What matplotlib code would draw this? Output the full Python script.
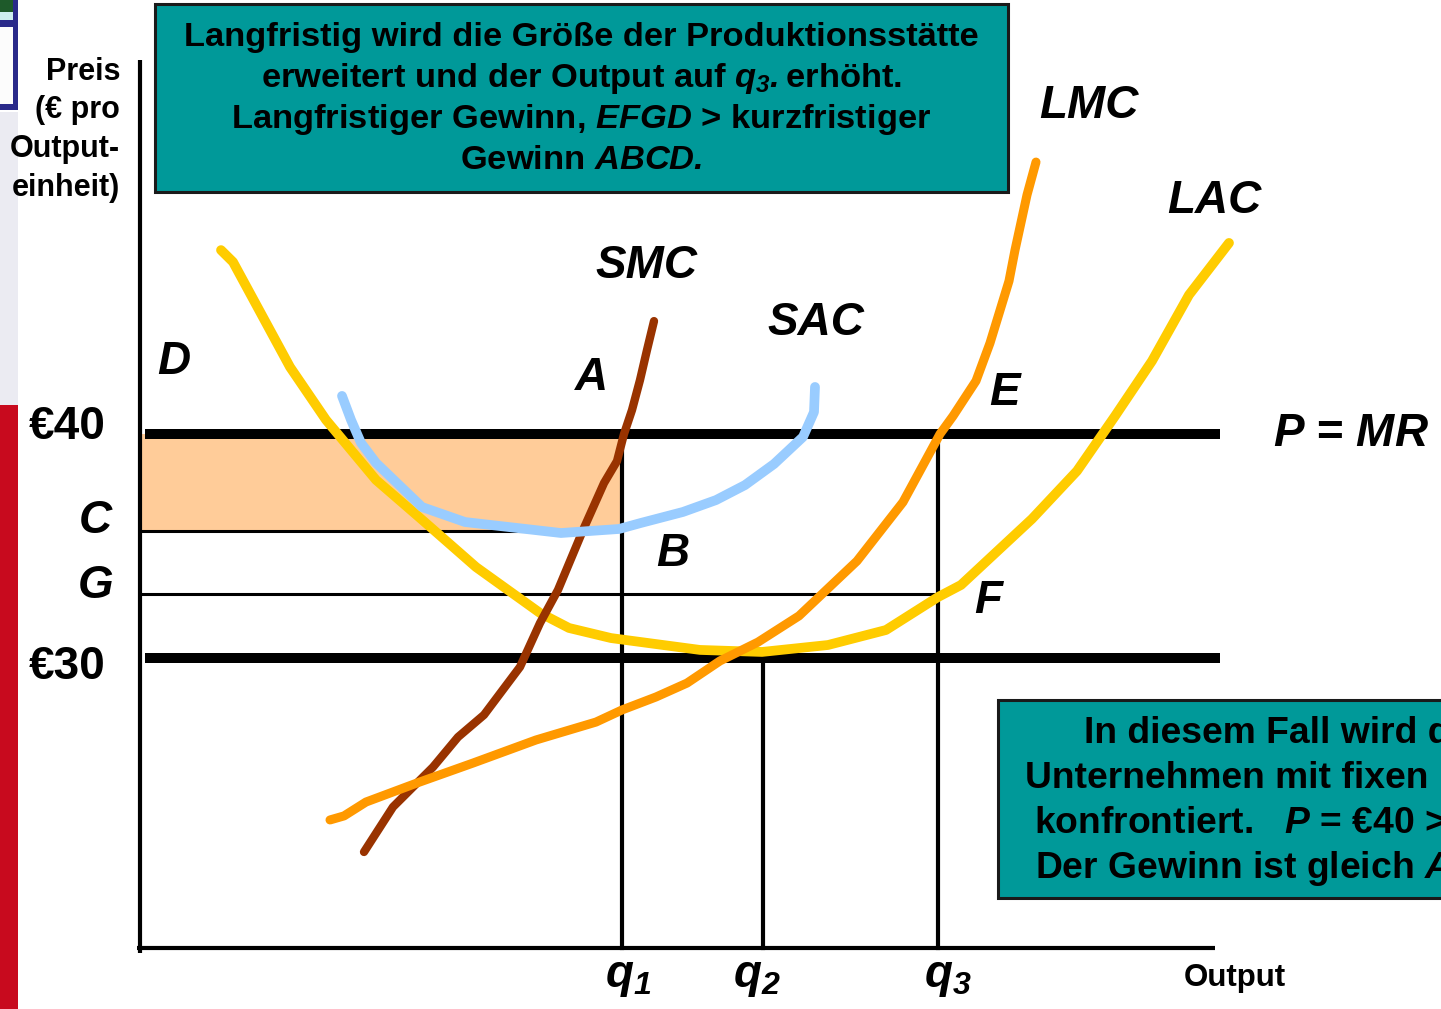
import matplotlib.pyplot as plt
from matplotlib.patches import Rectangle

plt.rcParams['font.family'] = ['Liberation Sans', 'DejaVu Sans']
plt.rcParams['mathtext.fontset'] = 'custom'
plt.rcParams['mathtext.rm'] = 'Liberation Sans:bold'
plt.rcParams['mathtext.it'] = 'Liberation Sans:italic:bold'
plt.rcParams['mathtext.bf'] = 'Liberation Sans:bold'
plt.rcParams['mathtext.sf'] = 'Liberation Sans:italic:bold'  # italic digits for subscripts

# --- data (output units, price in EUR) ---
lac_q = [8.1, 9.3, 15.0, 18.6, 23.6, 27.9, 33.6, 40.0, 42.9, 47.1, 56.0, 62.2,
         68.8, 74.6, 79.8, 82.1, 89.2, 93.7, 97.5, 101.2, 104.9, 108.9]
lac_p = [48.21, 47.68, 42.99, 40.63, 37.95, 36.29, 34.06, 32.01, 31.34, 30.89, 30.36, 30.27,
         30.58, 31.25, 32.72, 33.26, 36.21, 38.35, 40.80, 43.26, 46.21, 48.53]

sac_q = [20.2, 21.1, 22.1, 23.6, 28.2, 32.5, 42.1, 47.9, 50.1, 54.3, 57.6, 60.5,
         63.4, 66.3, 67.4, 67.5]
sac_p = [41.70, 40.63, 39.60, 38.71, 36.74, 36.07, 35.58, 35.76, 36.03, 36.52, 37.05, 37.72,
         38.66, 39.87, 40.98, 42.10]

smc_q = [22.4, 25.3, 29.3, 31.8, 34.4, 38.0, 40.0, 41.8, 44.3, 46.4, 47.7, 48.4,
         49.2, 50.0, 50.7, 51.4]
smc_p = [21.34, 23.35, 25.13, 26.47, 27.46, 29.60, 31.56, 33.04, 35.71, 37.81, 38.79, 40.0,
         41.07, 42.41, 43.75, 45.04]

lmc_q = [19.0, 20.4, 22.6, 27.7, 33.3, 39.6, 45.6, 48.2, 51.6, 54.7, 58.0, 61.8,
         65.9, 71.7, 76.3, 80.0, 81.3, 83.6, 85.0, 86.9, 87.5, 88.7, 89.6]
lmc_p = [22.77, 22.95, 23.57, 24.42, 25.31, 26.34, 27.14, 27.68, 28.26, 28.88, 29.87, 30.71,
         31.88, 34.33, 36.96, 40.0, 40.80, 42.37, 44.06, 46.83, 48.21, 50.67, 52.14]

price_high = 40.0
price_low = 30.0
price_c = 35.67
price_g = 32.86
q1, q2, q3 = 48.2, 62.3, 79.8
axis_p = 17.05
line_end = 108.0

top_lines = ['Langfristig wird die Größe der Produktionsstätte',
             r'erweitert und der Output auf $q_{\mathsf{3}}\mathsf{.}$erhöht.',
             r'Langfristiger Gewinn, $EFGD$ > kurzfristiger',
             r'Gewinn $ABCD\mathsf{.}$']
bottom_lines = ['In diesem Fall wird das',
                'Unternehmen mit fixen Inputs',
                r'konfrontiert.   $P$ = €40 > ATC.',
                r'Der Gewinn ist gleich $ABCD\mathsf{.}$']

W, H = 1441, 1009
fig = plt.figure(figsize=(W / 100, H / 100), dpi=100)
ax = fig.add_axes([0, 0, 1, 1])
ax.set_xlim(-14.0, 130.1)
ax.set_ylim(14.33, 59.375)
ax.axis('off')

# slide edge decoration on the left
def px_rect(x0, y0, x1, y1, color):
    fig.add_artist(Rectangle((x0 / W, 1 - y1 / H), (x1 - x0) / W, (y1 - y0) / H,
                             transform=fig.transFigure, color=color, lw=0, zorder=0))

px_rect(0, 405, 18, 1009, '#C80A1E')
px_rect(0, 112, 18, 405, '#EBEBF2')
px_rect(0, 0, 18, 110, '#2A2A8A')
px_rect(0, 0, 13, 12, '#1E5A2A')
px_rect(0, 12, 13, 20, '#CDEFEF')
px_rect(0, 27, 13, 104, '#FCFCFC')

# profit area ABCD
ax.fill_between([0, q1], price_c, price_high, color='#FFCC99', lw=0, zorder=1)

# price lines
ax.plot([0.5, line_end], [price_high, price_high], color='black', lw=7.2, solid_capstyle='butt', zorder=2)
ax.plot([0.5, line_end], [price_low, price_low], color='black', lw=7.2, solid_capstyle='butt', zorder=2)
ax.plot([0, q1], [price_c, price_c], color='black', lw=2.2, zorder=2)
ax.plot([0, q3], [price_g, price_g], color='black', lw=2.2, zorder=2)
ax.plot([q1, q1], [price_high, axis_p], color='black', lw=3, zorder=2)
ax.plot([q2, q2], [price_low, axis_p], color='black', lw=3, zorder=2)
ax.plot([q3, q3], [price_high, axis_p], color='black', lw=3, zorder=2)

# axes
ax.plot([0, 0], [56.7, axis_p - 0.2], color='black', lw=3, solid_capstyle='butt', zorder=3)
ax.plot([-0.3, 107.5], [axis_p, axis_p], color='black', lw=3, solid_capstyle='butt', zorder=3)

# cost curves
ax.plot(lac_q, lac_p, color='#FFCC00', lw=7, solid_capstyle='round', solid_joinstyle='round', zorder=4)
ax.plot(smc_q, smc_p, color='#993300', lw=6, solid_capstyle='round', solid_joinstyle='round', zorder=5)
ax.plot(sac_q, sac_p, color='#99CCFF', lw=7, solid_capstyle='round', solid_joinstyle='round', zorder=6)
ax.plot(lmc_q, lmc_p, color='#FF9900', lw=6.5, solid_capstyle='round', solid_joinstyle='round', zorder=7)

lab = dict(fontsize=33, fontweight='bold', ha='center', va='center', zorder=8)
labi = dict(lab, fontstyle='italic')
ax.text(-7.3, 40.32, '€40', **lab)
ax.text(-7.3, 29.6, '€30', **lab)
ax.text(-4.5, 36.12, 'C', **labi)
ax.text(-4.4, 33.22, 'G', **labi)
ax.text(3.4, 43.22, 'D', **labi)
ax.text(45.2, 42.5, 'A', **labi)
ax.text(53.3, 34.65, 'B', **labi)
ax.text(86.5, 41.83, 'E', **labi)
ax.text(84.8, 32.55, 'F', **labi)
ax.text(50.6, 47.5, 'SMC', **labi)
ax.text(67.6, 44.95, 'SAC', **labi)
ax.text(94.9, 54.65, 'LMC', **labi)
ax.text(107.4, 50.42, 'LAC', **labi)
ax.text(121.1, 39.98, r'$P$ = $MR$', **lab)
ax.text(q1 + 0.6, 15.75, r'$q_{\mathsf{1}}$', **lab)
ax.text(q2 - 0.6, 15.75, r'$q_{\mathsf{2}}$', **lab)
ax.text(q3 + 1.0, 15.75, r'$q_{\mathsf{3}}$', **lab)
ax.text(109.5, 15.72, 'Output', fontsize=22.5, fontweight='bold', ha='center', va='center')
ax.text(-2.0, 53.58, 'Preis\n(€ pro\nOutput-\neinheit)', fontsize=22, fontweight='bold',
        ha='right', va='center', multialignment='right', linespacing=1.38)

# text boxes
ax.add_patch(Rectangle((1.5, 50.8), 85.3, 8.4, facecolor='#009999', edgecolor='#1A1A1A', lw=2.2, zorder=9))
for i, s in enumerate(top_lines):
    ax.text(44.15, 57.32 - i * 1.83, s, fontsize=24.8, fontweight='bold', ha='center', va='baseline', zorder=10)

ax.add_patch(Rectangle((85.8, 19.29), 60.0, 8.84, facecolor='#009999', edgecolor='#1A1A1A', lw=2.2, zorder=9))
for i, s in enumerate(bottom_lines):
    ax.text(114.8, 26.21 - i * 2.01, s, fontsize=26.8, fontweight='bold', ha='center', va='baseline', zorder=10)

fig.savefig('out.png', dpi=100)
